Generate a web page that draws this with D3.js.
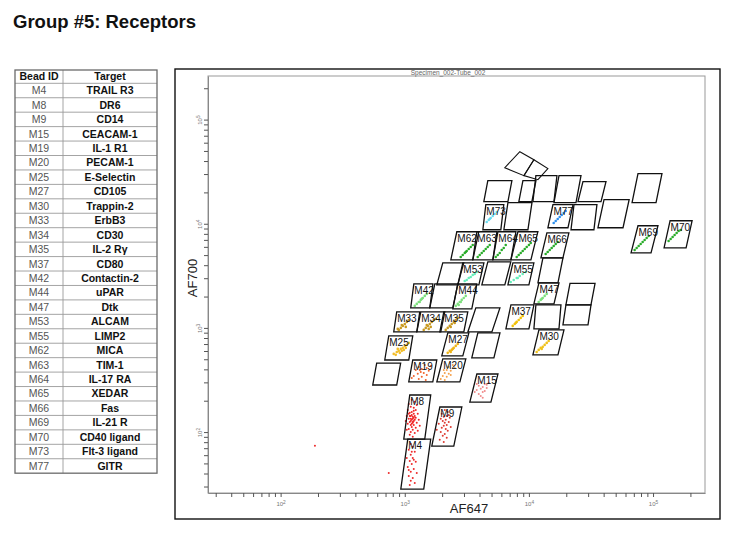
<!DOCTYPE html>
<html>
<head>
<meta charset="utf-8">
<script src="https://d3js.org/d3.v7.min.js"></script>
<style>
body { margin: 0; background: #fff; }
svg { font-family: 'Liberation Sans', Arial, sans-serif; }
</style>
</head>
<body>
<svg width="737" height="537"></svg>
<script>
// ---- table ----
const beadIds = ['M4','M8','M9','M15','M19','M20','M25','M27','M30','M33','M34','M35','M37','M42',
  'M44','M47','M53','M55','M62','M63','M64','M65','M66','M69','M70','M73','M77'];
const targets = ['TRAIL R3','DR6','CD14','CEACAM-1','IL-1 R1','PECAM-1','E-Selectin','CD105','Trappin-2',
  'ErbB3','CD30','IL-2 R\u03b3','CD80','Contactin-2','uPAR','Dtk','ALCAM','LIMP2','MICA','TIM-1','IL-17 RA',
  'XEDAR','Fas','IL-21 R','CD40 ligand','Flt-3 ligand','GITR'];

// ---- gates: [label, x bottom-left, x bottom-right, y bottom, x top-left, y top] ----
const gates = [
  ['M4', 929, 1422, 28.3, 1057, 85.7],
  ['M8', 982, 1449, 85.7, 1097, 227],
  ['M9', 1651, 2483, 73.3, 1917, 174],
  ['M15', 3342, 4943, 194, 3809, 361],
  ['M19', 1077, 1682, 303, 1160, 492],
  ['M20', 1813, 2780, 303, 2024, 504],
  ['', 552, 861, 283, 594, 460],
  ['M25', 690, 1077, 492, 743, 838],
  ['M27', 1987, 2935, 538, 2223, 896],
  ['', 3467, 5224, 515, 3880, 896],
  ['M30', 10770, 17140, 550, 12040, 957],
  ['M33', 815, 1250, 915, 861, 1425],
  ['M34', 1250, 1950, 915, 1346, 1425],
  ['M35', 1917, 2991, 915, 2063, 1425],
  ['', 3223, 5036, 915, 3738, 1556],
  ['M37', 6527, 10000, 978, 7164, 1664],
  ['', 10970, 17470, 978, 11380, 1664],
  ['', 19870, 31620, 1664, 21430, 2680],
  ['', 18800, 29930, 1068, 19870, 1664],
  ['M42', 1117, 1591, 1556, 1183, 2650],
  ['', 1591, 2438, 1556, 1746, 2650],
  ['M44', 2438, 3467, 1522, 2674, 2650],
  ['M47', 10970, 15920, 1703, 12040, 2710],
  ['M53', 2674, 3954, 2589, 2935, 4219],
  ['', 1813, 2674, 2589, 2024, 4219],
  ['', 4178, 6397, 2589, 4667, 4313],
  ['M55', 6776, 10000, 2589, 7431, 4219],
  ['', 11820, 17140, 2710, 12970, 4710],
  ['M62', 2350, 3533, 4508, 2626, 8375],
  ['M63', 3533, 5124, 4508, 3809, 8375],
  ['M64', 5124, 7164, 4508, 5623, 8375],
  ['M65', 7164, 10380, 4508, 8153, 8375],
  ['M66', 12500, 18800, 4710, 13960, 8190],
  ['M73', 4257, 5941, 8756, 4497, 15240],
  ['', 6285, 9818, 8756, 6776, 15930],
  ['M77', 14220, 20640, 9156, 15620, 15240],
  ['', 21830, 33410, 8756, 23080, 15240],
  ['', 35970, 57310, 9156, 40290, 17010],
  ['M69', 66500, 96350, 5261, 75640, 9573],
  ['M70', 122700, 184600, 5871, 137200, 10690],
  ['', 4335, 6776, 16290, 4667, 25890],
  ['', 8299, 10570, 16290, 8950, 25890],
  ['', 10770, 15920, 16290, 11380, 28960],
  ['', 15920, 23950, 15930, 17470, 28960],
  ['', 24850, 38100, 16290, 27250, 25330],
  ['', 67760, 105700, 15930, 75640, 30260]
];
// two rotated gates, given by their corners
const tiltedGates = [
  [[8453, 49200], [10970, 41200], [9120, 28960], [6397, 34520]],
  [[10970, 41200], [14220, 33810], [11820, 26490], [9120, 28960]]
];

// ---- events [AF647, AF700] per bead ----
const eventsM4 = [[1118,77],[1160,72.1],[1077,67.5],[1204,64.6],[1118,60.4],[1038,56.5],[1160,56.5],[1097,52.8],
  [1226,51.8],[1139,49.4],[1057,46.2],[1182,44.3],[1118,41.5],[1249,40.4],[1077,37.8],[1160,36.3],[1118,34],
  [1204,32.5],[1097,31],[1139,64.6],[1182,54.1],[1077,43.2],[743,40.4],[189,73.7]];
const eventsM8 = [[1139,204],[1204,195],[1077,186],[1249,182],[1118,175],[1182,171],[1057,163],[1226,163],
  [1139,156],[1097,153],[1182,150],[1273,150],[1038,143],[1118,143],[1160,140],[1226,137],[1077,134],[1139,131],
  [1204,131],[1097,125],[1160,125],[1249,123],[1057,120],[1118,117],[1182,117],[1139,112],[1226,110],[1077,107],
  [1160,105],[1118,100],[1204,98],[1097,94],[1160,90],[1296,131],[1019,128],[1320,115],[1038,105],[1273,103],
  [1182,160],[1118,134],[1160,123],[1097,143],[1139,146],[1182,137],[1118,128],[1160,134],[1204,143],[1077,150],
  [1139,120],[1182,128]];
const eventsM9 = [[2099,163],[2219,156],[1986,150],[2178,143],[2060,140],[2303,137],[1949,134],[2138,131],
  [2023,128],[2261,125],[2099,123],[1878,120],[2178,117],[2060,115],[2346,112],[1986,110],[2138,107],[2219,103],
  [1949,100],[2099,96],[2023,92],[2178,88],[1913,84.2],[2060,80.5],[1810,105],[2261,146]];
const eventsM15 = [[4092,303],[4407,290],[3943,278],[4246,271],[4573,265],[4092,260],[3799,254],[4407,248],
  [4246,243],[3943,232],[4092,222],[4573,284],[3661,243],[4746,297],[4246,213],[3799,290]];
const eventsM19 = [[1449,441],[1296,422],[1504,413],[1371,404],[1226,395],[1560,387],[1345,378],[1422,370],
  [1273,362],[1504,354],[1182,346],[1371,339],[1296,324],[1476,317],[1619,432],[1139,331],[1320,395]];
const eventsM20 = [[2435,441],[2261,422],[2527,413],[2178,395],[2346,387],[2099,370],[2261,362],[2023,346],
  [2178,339],[1949,324],[2099,317],[2346,354],[2060,395]];
const eventsM25 = [[815,563],[862,588],[895,602],[929,629],[964,643],[1000,672],[1038,687],[1077,718],[912,576],
  [982,615],[878,629],[1019,643],[946,602],[846,551]];
const eventsM27 = [[2219,576],[2303,602],[2390,615],[2480,643],[2574,672],[2671,702],[2435,629],[2346,588]];
const eventsM30 = [[11550,588],[11990,615],[12440,643],[12920,657],[13400,687],[13910,718],[14430,750],[12680,629]];
const eventsM33 = [[895,957],[929,1000],[964,1045],[1000,1092],[1038,1142],[1077,1193],[946,1068],[1019,1022],[878,978]];
const eventsM34 = [[1422,957],[1476,1000],[1532,1045],[1590,1092],[1650,1142],[1712,1193],[1504,1068],[1619,1022],
  [1777,1220],[1560,978]];
const eventsM35 = [[2138,957],[2219,1000],[2303,1045],[2390,1092],[2480,1142],[2574,1193],[2671,1247],[2346,1022],[2527,1117]];
const eventsM37 = [[7405,1045],[7685,1092],[7976,1142],[8277,1193],[8589,1247],[8914,1304],[7829,1117]];
const eventsM42 = [[1204,1626],[1249,1700],[1296,1776],[1345,1857],[1396,1940],[1449,2028],[1504,2120],[1320,1776],[1371,1898]];
const eventsM44 = [[2574,1626],[2671,1700],[2772,1776],[2877,1857],[2986,1940],[3099,2028],[2825,1776],[2721,1662]];
const eventsM47 = [[11990,1776],[12440,1857],[12920,1940],[13400,2028],[13910,2120],[12680,1898]];
const eventsM53 = [[3042,2825],[3156,2888],[3276,3017],[3399,3086],[3528,3226],[3661,3298],[3799,3446]];
const eventsM55 = [[7136,2763],[7544,2888],[7976,3017],[8432,3155],[8914,3298],[9424,3446],[8124,3017]];
const eventsM62 = [[2825,4801],[2931,5019],[3042,5239],[3156,5483],[3276,5730],[3399,5989],[3528,6259],[3099,5362]];
const eventsM63 = [[3870,4801],[4017,5019],[4168,5239],[4326,5483],[4489,5730],[4659,5989],[4836,6259]];
const eventsM64 = [[5404,4801],[5608,5019],[5822,5239],[6039,5605],[6268,5850],[6504,6259]];
const eventsM65 = [[7976,4801],[8277,5019],[8589,5239],[8914,5483],[9257,5730],[9601,5989],[10000,6259],[10340,6543]];
const eventsM66 = [[13650,5130],[14170,5362],[14710,5605],[15260,5850],[15840,6123],[16440,6400],[17060,6689]];
const eventsM69 = [[71090,5605],[73800,5850],[76600,6123],[79500,6400],[82460,6689],[85570,6990],[88820,7296],[92170,7636]];
const eventsM70 = [[133500,6839],[138600,7146],[143800,7468],[149200,7806],[154900,8159],[160700,8527],[166800,8720]];
const eventsM73 = [[4573,10410],[4746,10880],[4925,11370],[5111,11880],[5306,12420],[5505,12980],[4836,11120]];
const eventsM77 = [[15840,10180],[16440,10640],[17060,11120],[17700,11620],[18370,12150],[19060,12700],[19780,13270]];

const clusters = [['M4', eventsM4], ['M8', eventsM8], ['M9', eventsM9], ['M15', eventsM15], ['M19', eventsM19],
  ['M20', eventsM20], ['M25', eventsM25], ['M27', eventsM27], ['M30', eventsM30], ['M33', eventsM33],
  ['M34', eventsM34], ['M35', eventsM35], ['M37', eventsM37], ['M42', eventsM42], ['M44', eventsM44],
  ['M47', eventsM47], ['M53', eventsM53], ['M55', eventsM55], ['M62', eventsM62], ['M63', eventsM63],
  ['M64', eventsM64], ['M65', eventsM65], ['M66', eventsM66], ['M69', eventsM69], ['M70', eventsM70],
  ['M73', eventsM73], ['M77', eventsM77]];

const colors = {
  M4: '#ee2a2a', M8: '#f02626', M9: '#dd3a30', M15: '#f08a8a', M19: '#f2622a', M20: '#f5a04a',
  M25: '#f2be2a', M27: '#eeb416', M30: '#f0c21a', M33: '#c99a22', M34: '#c99a22', M35: '#c99a22',
  M37: '#f2c20a', M42: '#7ee07e', M44: '#7ee07e', M47: '#7ee07e', M53: '#66eebb', M55: '#66eebb',
  M62: '#2aac2a', M63: '#2aac2a', M64: '#2aac2a', M65: '#2aac2a', M66: '#2aac2a', M69: '#2aac2a',
  M70: '#2aac2a', M73: '#6adcf0', M77: '#2f90ee'
};
const scattered = ['M4', 'M8', 'M9', 'M15', 'M19', 'M20'];

const svg = d3.select('svg');

svg.append('text')
  .attr('x', 13).attr('y', 28)
  .attr('font-size', 18.5).attr('font-weight', 'bold').attr('fill', '#111')
  .text('Group #5: Receptors');

// ---- table ----
const tx0 = 15, tx1 = 63, tx2 = 157, ty0 = 70, headH = 13.3, rowH = 14.44;
const rowTop = i => i === 0 ? ty0 : ty0 + headH + (i - 1) * rowH;
const tableRows = [['Bead ID', 'Target']].concat(beadIds.map((b, i) => [b, targets[i]]));
const tbl = svg.append('g');
const tyEnd = rowTop(tableRows.length);

tbl.selectAll('line.h')
  .data(d3.range(1, tableRows.length))
  .enter().append('line')
    .attr('x1', tx0).attr('x2', tx2)
    .attr('y1', d => rowTop(d)).attr('y2', d => rowTop(d))
    .attr('stroke', '#9a9a9a').attr('stroke-width', 0.9);
tbl.append('line')
  .attr('x1', tx1).attr('x2', tx1).attr('y1', ty0).attr('y2', tyEnd)
  .attr('stroke', '#9a9a9a').attr('stroke-width', 0.9);
tbl.append('rect')
  .attr('x', tx0).attr('y', ty0).attr('width', tx2 - tx0).attr('height', tyEnd - ty0)
  .attr('fill', 'none').attr('stroke', '#6a6a6a').attr('stroke-width', 1.3);

tableRows.forEach((r, i) => {
  const h = i === 0 ? headH : rowH;
  const yb = rowTop(i) + h / 2 + 3.7;
  tbl.append('text')
    .attr('x', (tx0 + tx1) / 2).attr('y', yb)
    .attr('text-anchor', 'middle').attr('font-size', 10.5)
    .attr('font-weight', i === 0 ? 'bold' : 'normal')
    .attr('fill', i === 0 ? '#111' : '#555')
    .text(r[0]);
  tbl.append('text')
    .attr('x', (tx1 + tx2) / 2).attr('y', yb)
    .attr('text-anchor', 'middle').attr('font-size', 10.5)
    .attr('font-weight', 'bold').attr('fill', '#111')
    .text(r[1]);
});

// ---- plot ----
const xs = d3.scaleLog().domain([26, 262144]).range([208, 705]);
const ys = d3.scaleLog().domain([26, 262144]).range([493, 76]);

svg.append('rect')
  .attr('x', 175).attr('y', 69).attr('width', 545).attr('height', 450)
  .attr('fill', 'none').attr('stroke', '#111').attr('stroke-width', 1.4);
svg.append('rect')
  .attr('x', 208).attr('y', 76).attr('width', 497).attr('height', 417)
  .attr('fill', 'none').attr('stroke', '#999').attr('stroke-width', 1);

svg.append('text')
  .attr('x', 448).attr('y', 74.5).attr('text-anchor', 'middle')
  .attr('font-size', 6.5).attr('fill', '#666')
  .text('Specimen_002-Tube_002');

const isMajor = d => Math.abs(Math.log10(d) - Math.round(Math.log10(d))) < 1e-9;
const supLabel = (sel) => sel.each(function (d) {
  const t = d3.select(this);
  t.text('');
  if (!isMajor(d)) return;
  t.text('10').append('tspan').attr('dy', '-0.5em').attr('font-size', '0.8em').text(Math.round(Math.log10(d)));
});

const gx = svg.append('g')
  .attr('transform', 'translate(0,493)')
  .call(d3.axisBottom(xs).tickValues(xs.ticks()).tickSize(4).tickSizeOuter(0));
gx.select('.domain').attr('stroke', '#888');
gx.selectAll('.tick line').attr('stroke', '#555');
gx.selectAll('.tick text')
  .attr('y', 10).attr('dy', '0.5em')
  .attr('font-size', 6).attr('fill', '#777')
  .call(supLabel);

const gy = svg.append('g')
  .attr('transform', 'translate(208,0)')
  .call(d3.axisLeft(ys).tickValues(ys.ticks()).tickSize(4).tickSizeOuter(0));
gy.select('.domain').attr('stroke', '#888');
gy.selectAll('.tick line').attr('stroke', '#555');
gy.selectAll('.tick text')
  .attr('x', null).attr('dy', null)
  .attr('transform', 'translate(-6,0) rotate(-90)')
  .attr('text-anchor', 'middle')
  .attr('font-size', 6).attr('fill', '#777')
  .call(supLabel);

svg.append('text')
  .attr('x', 469).attr('y', 513).attr('text-anchor', 'middle')
  .attr('font-size', 13).attr('fill', '#222')
  .text('AF647');
svg.append('text')
  .attr('transform', 'translate(197,278) rotate(-90)').attr('text-anchor', 'middle')
  .attr('font-size', 13).attr('fill', '#222')
  .text('AF700');

// events
const dots = svg.append('g');
clusters.forEach(([id, ev]) => {
  dots.selectAll(null)
    .data(ev)
    .enter().append('circle')
      .attr('cx', d => xs(d[0]))
      .attr('cy', d => ys(d[1]))
      .attr('r', scattered.includes(id) ? 1.0 : 1.3)
      .attr('fill', colors[id]);
});

// gates
const gateLayer = svg.append('g');
gateLayer.selectAll('path.gate')
  .data(gates)
  .enter().append('path')
    .attr('d', g => {
      const [, xbl, xbr, yb, xtl, yt] = g;
      const xtr = xtl * xbr / xbl;
      return d3.line()([[xs(xbl), ys(yb)], [xs(xbr), ys(yb)], [xs(xtr), ys(yt)], [xs(xtl), ys(yt)]]) + 'Z';
    })
    .attr('fill', 'none').attr('stroke', '#111').attr('stroke-width', 1.3);
gateLayer.selectAll('path.tilt')
  .data(tiltedGates)
  .enter().append('path')
    .attr('d', p => d3.line()(p.map(d => [xs(d[0]), ys(d[1])])) + 'Z')
    .attr('fill', 'none').attr('stroke', '#111').attr('stroke-width', 1.1);
gateLayer.selectAll('text')
  .data(gates.filter(g => g[0] !== ''))
  .enter().append('text')
    .attr('x', g => xs(g[4]) + 0.5)
    .attr('y', g => ys(g[5]) + 10)
    .attr('font-size', 10).attr('fill', '#111')
    .text(g => g[0]);
</script>
</body>
</html>
